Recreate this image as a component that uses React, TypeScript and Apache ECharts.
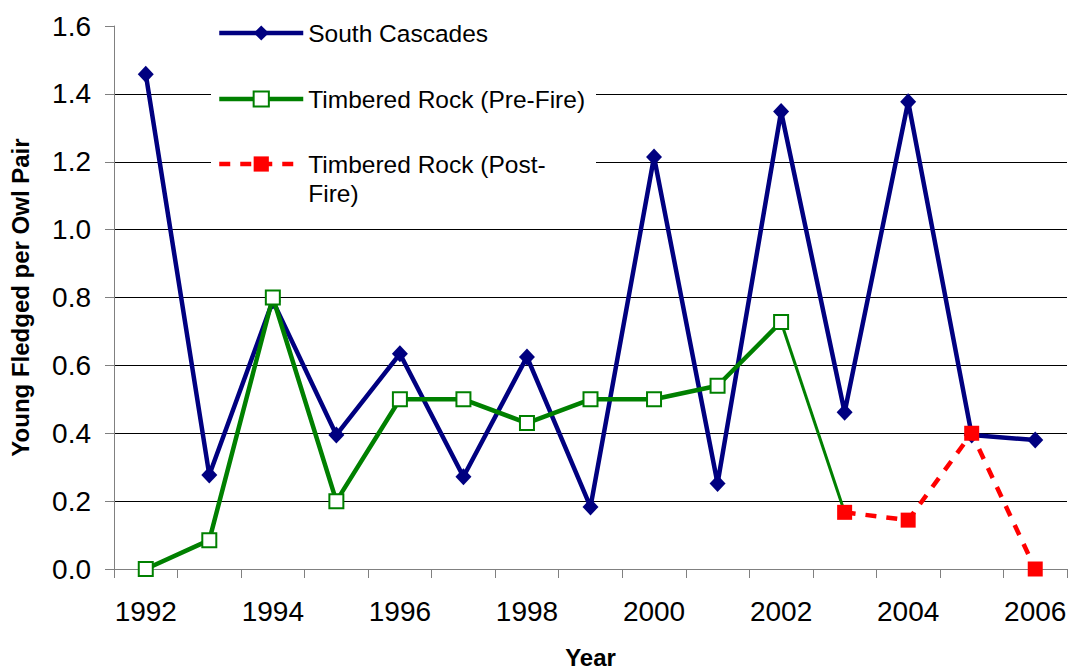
import React, { useEffect, useRef } from "react";
import * as echarts from "echarts";

const years = ["1992","1993","1994","1995","1996","1997","1998","1999","2000","2001","2002","2003","2004","2005","2006"];
const southCascades = [1.458, 0.277, 0.79, 0.395, 0.634, 0.272, 0.625, 0.183, 1.214, 0.252, 1.348, 0.462, 1.377, 0.395, 0.38];
const timberedPre = [0, 0.085, 0.8, 0.2, 0.5, 0.5, 0.43, 0.5, 0.5, 0.54, 0.728, null, null, null, null];
const timberedPost = [null, null, null, null, null, null, null, null, null, null, null, 0.167, 0.144, 0.4, 0];

const NAMES = ["South Cascades", "Timbered Rock (Pre-Fire)", "Timbered Rock (Post-Fire)"];
const FONT = "'Liberation Sans', Arial, sans-serif";

export default function App() {
  const ref = useRef<HTMLDivElement>(null);
  useEffect(() => {
    if (!ref.current) return;
    const chart = echarts.init(ref.current, undefined, { renderer: "svg" });
    // thinner segment joining the last pre-fire point to the first post-fire point
    const connector = years.map((_, i) => {
      if (i === 10) return timberedPre[10];
      if (i === 11) return timberedPost[11];
      return null;
    });
    chart.setOption({
      animation: false,
      textStyle: { fontFamily: FONT, color: "#000" },
      grid: {
        left: 114,
        top: 26,
        width: 953,
        height: 543,
        containLabel: false,
        outerBoundsMode: "none",
      },
      graphic: [
        {
          type: "rect",
          z: 1,
          shape: { x: 211, y: 6, width: 385, height: 206 },
          style: { fill: "#fff" },
        },
      ],
      legend: [
        {
          data: [NAMES[0], NAMES[1]],
          orient: "vertical",
          left: 217,
          top: 18.5,
          padding: 0,
          itemWidth: 84,
          itemHeight: 19,
          itemGap: 37,
          lineStyle: { width: 4.5 },
          textStyle: { fontFamily: FONT, fontSize: 24.5, color: "#000", lineHeight: 29 },
        },
        {
          data: [NAMES[2]],
          orient: "vertical",
          left: 217,
          top: 120.5,
          padding: 0,
          itemWidth: 84,
          itemHeight: 19,
          lineStyle: { width: 4.5 },
          formatter: () => " \nTimbered Rock (Post-\nFire)",
          textStyle: { fontFamily: FONT, fontSize: 24.5, color: "#000", lineHeight: 29 },
        },
      ],
      xAxis: {
        type: "category",
        data: years,
        boundaryGap: true,
        name: "Year",
        nameLocation: "middle",
        nameGap: 78,
        nameTextStyle: { fontFamily: FONT, fontSize: 24, fontWeight: "bold", color: "#000", lineHeight: 20 },
        axisLine: { show: true, lineStyle: { color: "#808080", width: 1 } },
        axisTick: { show: true, interval: 0, length: 9, lineStyle: { color: "#808080" } },
        axisLabel: { interval: 1, fontFamily: FONT, fontSize: 28, color: "#000", margin: 28 },
        splitLine: { show: false },
      },
      yAxis: {
        type: "value",
        min: 0,
        max: 1.6,
        interval: 0.2,
        name: "Young Fledged per Owl Pair",
        nameLocation: "middle",
        nameGap: 82,
        nameTextStyle: { fontFamily: FONT, fontSize: 24, fontWeight: "bold", color: "#000" },
        axisLine: { show: true, lineStyle: { color: "#808080", width: 1 } },
        axisTick: { show: true, length: 9, lineStyle: { color: "#808080" } },
        axisLabel: {
          fontFamily: FONT,
          fontSize: 28,
          color: "#000",
          margin: 23,
          formatter: (v: number) => v.toFixed(1),
        },
        splitLine: {
          show: true,
          showMaxLine: false,
          showMinLine: false,
          lineStyle: { color: "#000", width: 1 },
        },
      },
      series: [
        {
          name: NAMES[0],
          type: "line",
          data: southCascades,
          color: "#000080",
          symbol: "diamond",
          symbolSize: [16, 17],
          lineStyle: { color: "#000080", width: 4.5 },
          itemStyle: { color: "#000080" },
          z: 3,
        },
        {
          name: "connector",
          type: "line",
          data: connector,
          symbol: "none",
          lineStyle: { color: "#008000", width: 3 },
          z: 3,
        },
        {
          name: NAMES[1],
          type: "line",
          data: timberedPre,
          color: "#008000",
          symbol: "rect",
          symbolSize: 14,
          lineStyle: { color: "#008000", width: 4.5 },
          itemStyle: { color: "#ffffff", borderColor: "#008000", borderWidth: 2 },
          z: 4,
        },
        {
          name: NAMES[2],
          type: "line",
          data: timberedPost,
          color: "#ff0000",
          symbol: "rect",
          symbolSize: 15,
          lineStyle: { color: "#ff0000", width: 4.5, type: [11, 10] },
          itemStyle: { color: "#ff0000" },
          z: 5,
        },
      ],
    });
    return () => chart.dispose();
  }, []);
  return (
    <div
      ref={ref}
      style={{ position: "fixed", left: 0, top: 0, width: 1071, height: 669, background: "#fff" }}
    />
  );
}
